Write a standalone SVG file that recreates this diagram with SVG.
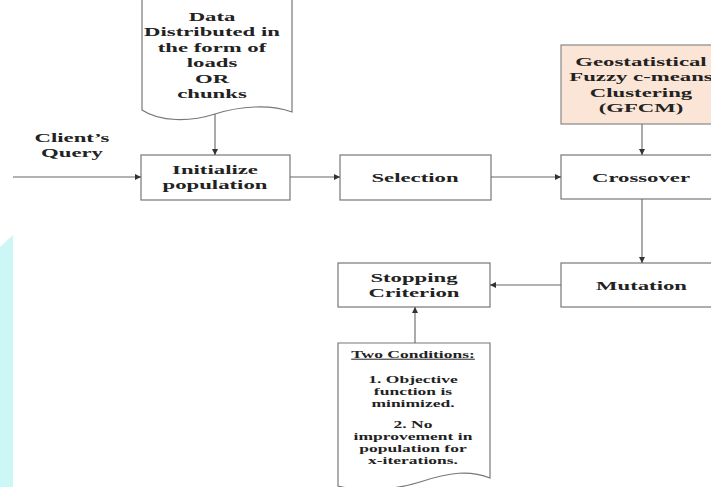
<svg xmlns="http://www.w3.org/2000/svg" width="711" height="487" viewBox="0 0 711 487">
<style>
.box{fill:#fff;stroke:#777;stroke-width:1.2}
.peach{fill:#fbe5d6;stroke:#888;stroke-width:1.2}
.t{font-family:"Liberation Serif","Times New Roman",serif;font-weight:bold;font-size:13px;fill:#222;text-anchor:middle}
.s{font-size:10px}
.c{fill:none;stroke:#666;stroke-width:1.1}
</style>
<defs>
<marker id="ah" markerUnits="userSpaceOnUse" markerWidth="7" markerHeight="6" refX="6" refY="3" orient="auto">
<path d="M0,0 L6,3 L0,6 z" fill="#333"/>
</marker>
</defs>
<rect width="711" height="487" fill="#fff"/>
<path d="M0,247 L13,235 V487 H0 Z" fill="#cdf7f7"/>

<g id="client-query">
<text class="t" transform="matrix(1.75,0,0,1,72,0)"><tspan x="0" y="142">Client’s</tspan><tspan x="0" y="157">Query</tspan></text>
</g>

<g id="data-doc">
<path class="box" d="M142,-2 H292 V112 C270,104 240,106 215,114 C190,122 160,122 142,110 Z"/>
<text class="t" transform="matrix(1.75,0,0,1,212,0)"><tspan x="0" y="21">Data</tspan><tspan x="0" y="36.5">Distributed in</tspan><tspan x="0" y="52">the form of</tspan><tspan x="0" y="67.5">loads</tspan><tspan x="0" y="83">OR</tspan><tspan x="0" y="98.5">chunks</tspan></text>
</g>

<g id="initialize">
<rect class="box" x="141" y="155" width="149" height="45"/>
<text class="t" transform="matrix(1.75,0,0,1,215,0)"><tspan x="0" y="174">Initialize</tspan><tspan x="0" y="189">population</tspan></text>
</g>

<g id="selection">
<rect class="box" x="340" y="155" width="151" height="45"/>
<text class="t" transform="matrix(1.75,0,0,1,415,0)"><tspan x="0" y="182">Selection</tspan></text>
</g>

<g id="gfcm">
<rect class="peach" x="561" y="45" width="162" height="79"/>
<text class="t" transform="matrix(1.75,0,0,1,641,0)"><tspan x="0" y="66">Geostatistical</tspan><tspan x="0" y="81.5">Fuzzy c-means</tspan><tspan x="0" y="97">Clustering</tspan><tspan x="0" y="112.5">(GFCM)</tspan></text>
</g>

<g id="crossover">
<rect class="box" x="561" y="155" width="162" height="44"/>
<text class="t" transform="matrix(1.75,0,0,1,641,0)"><tspan x="0" y="182">Crossover</tspan></text>
</g>

<g id="mutation">
<rect class="box" x="561" y="263" width="162" height="44"/>
<text class="t" transform="matrix(1.75,0,0,1,641.5,0)"><tspan x="0" y="290">Mutation</tspan></text>
</g>

<g id="stopping">
<rect class="box" x="338" y="263" width="152" height="44"/>
<text class="t" transform="matrix(1.75,0,0,1,414,0)"><tspan x="0" y="282">Stopping</tspan><tspan x="0" y="297">Criterion</tspan></text>
</g>

<g id="conditions-doc">
<path class="box" d="M338,343 H490 V478 C470,470 450,472 420,482 C395,490 360,492 338,486 Z"/>
<text class="t s" transform="matrix(1.75,0,0,1,413,0)"><tspan x="0" y="358" text-decoration="underline">Two Conditions:</tspan><tspan x="0" y="383">1. Objective</tspan><tspan x="0" y="395">function is</tspan><tspan x="0" y="407">minimized.</tspan><tspan x="0" y="428.5">2. No</tspan><tspan x="0" y="440.5">improvement in</tspan><tspan x="0" y="452.5">population for</tspan><tspan x="0" y="464.5">x-iterations.</tspan></text>
</g>

<g id="connectors">
<path class="c" d="M13,177 H141" marker-end="url(#ah)"/>
<path class="c" d="M215,114 V155" marker-end="url(#ah)"/>
<path class="c" d="M290,177 H340" marker-end="url(#ah)"/>
<path class="c" d="M491,177 H561" marker-end="url(#ah)"/>
<path class="c" d="M642,124 V155" marker-end="url(#ah)"/>
<path class="c" d="M642,199 V263" marker-end="url(#ah)"/>
<path class="c" d="M561,285 H490" marker-end="url(#ah)"/>
<path class="c" d="M415,343 V307" marker-end="url(#ah)"/>
</g>
</svg>
